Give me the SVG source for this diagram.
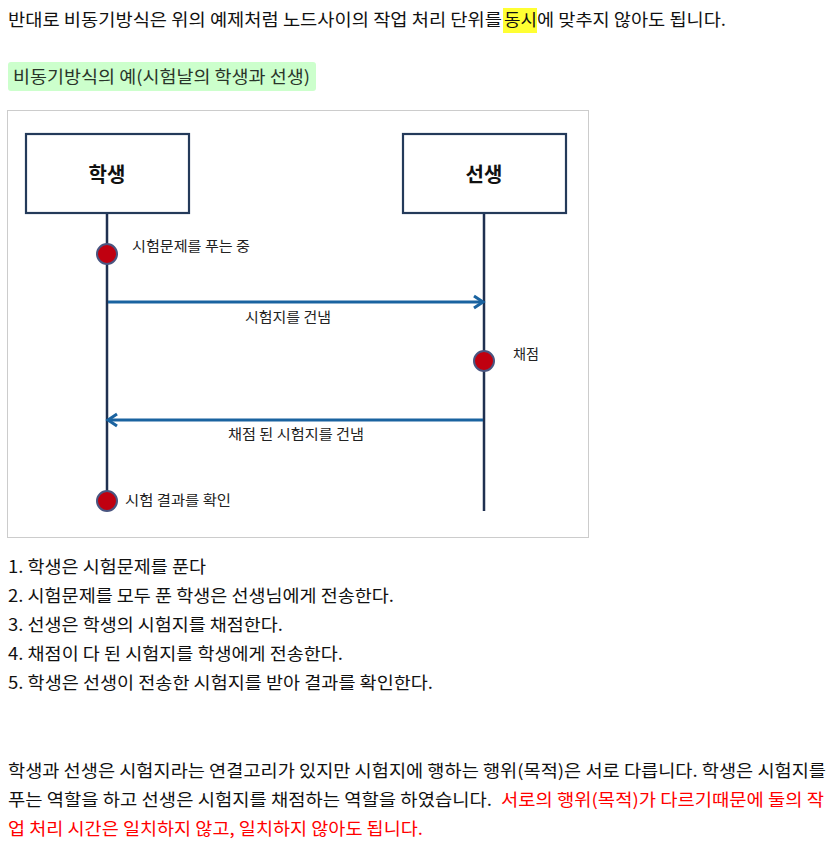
<svg xmlns="http://www.w3.org/2000/svg" width="834" height="856" viewBox="0 0 834 856">
<style>
.t{font-family:"Noto Sans CJK KR","Noto Sans",sans-serif;font-size:17px;fill:#111}
.r{fill:#ff0000}
.lbl{font-family:"Noto Sans CJK KR","Noto Sans",sans-serif;font-size:14px;fill:#222}
.box{fill:#fff;stroke:#243a5a;stroke-width:2.2}
.bt{font-family:"Noto Sans CJK KR","Noto Sans",sans-serif;font-size:20px;font-weight:bold;fill:#111;text-anchor:middle}
.life{stroke:#1f3050;stroke-width:2.5;fill:none}
.dot{fill:#c00010;stroke:#4a5580;stroke-width:2}
.msg{stroke:#1a63a0;stroke-width:3;fill:none}
</style>
<defs>
<marker id="ah" markerUnits="userSpaceOnUse" markerWidth="16" markerHeight="16" viewBox="0 0 16 16" refX="12" refY="8" orient="auto">
<path d="M3,2 L12,8 L3,14" fill="none" stroke="#1a63a0" stroke-width="3"/>
</marker>
</defs>
<rect width="834" height="856" fill="#fff"/>
<g id="intro">
<rect x="503" y="8" width="34" height="25" fill="#ffff33"/>
<text class="t" x="8" y="26" textLength="494" lengthAdjust="spacingAndGlyphs">반대로 비동기방식은 위의 예제처럼 노드사이의 작업 처리 단위를 </text>
<text class="t" x="504" y="26" textLength="33" lengthAdjust="spacingAndGlyphs">동시</text>
<text class="t" x="537" y="26" textLength="189" lengthAdjust="spacingAndGlyphs">에 맞추지 않아도 됩니다.</text>
</g>
<g id="caption">
<rect x="8" y="62" width="308" height="29" rx="3" fill="#ccffcc"/>
<text class="t" x="13" y="83" textLength="297" lengthAdjust="spacingAndGlyphs" style="fill:#2a352a">비동기방식의 예(시험날의 학생과 선생)</text>
</g>
<g id="frame">
<rect x="7.5" y="110.5" width="581" height="427" fill="#fff" stroke="#cccccc" stroke-width="1"/>
</g>
<g id="connectors">
<line class="life" x1="107" y1="213" x2="107" y2="501"/>
<line class="life" x1="484" y1="213" x2="484" y2="511"/>
<line class="msg" x1="108" y1="302" x2="483" y2="302" marker-end="url(#ah)"/>
<line class="msg" x1="483" y1="420" x2="108" y2="420" marker-end="url(#ah)"/>
<text class="lbl" x="245" y="322" textLength="86" lengthAdjust="spacingAndGlyphs">시험지를 건냄</text>
<text class="lbl" x="228" y="439" textLength="136" lengthAdjust="spacingAndGlyphs">채점 된 시험지를 건냄</text>
</g>
<g id="student">
<rect class="box" x="26" y="134" width="163" height="79"/>
<text class="bt" x="107" y="182">학생</text>
</g>
<g id="teacher">
<rect class="box" x="403" y="134" width="163" height="79"/>
<text class="bt" x="484" y="182">선생</text>
</g>
<g id="ev-solving">
<circle class="dot" cx="107" cy="254" r="10"/>
<text class="lbl" x="132" y="251" textLength="118" lengthAdjust="spacingAndGlyphs">시험문제를 푸는 중</text>
</g>
<g id="ev-grading">
<circle class="dot" cx="484" cy="361" r="10"/>
<text class="lbl" x="513" y="359" textLength="26" lengthAdjust="spacingAndGlyphs">채점</text>
</g>
<g id="ev-check">
<circle class="dot" cx="107" cy="501" r="10"/>
<text class="lbl" x="125" y="505" textLength="106" lengthAdjust="spacingAndGlyphs">시험 결과를 확인</text>
</g>
<g id="steps">
<text class="t" x="8" y="573" textLength="198" lengthAdjust="spacingAndGlyphs">1. 학생은 시험문제를 푼다</text>
<text class="t" x="8" y="602" textLength="386" lengthAdjust="spacingAndGlyphs">2. 시험문제를 모두 푼 학생은 선생님에게 전송한다.</text>
<text class="t" x="8" y="631" textLength="275" lengthAdjust="spacingAndGlyphs">3. 선생은 학생의 시험지를 채점한다.</text>
<text class="t" x="8" y="660" textLength="335" lengthAdjust="spacingAndGlyphs">4. 채점이 다 된 시험지를 학생에게 전송한다.</text>
<text class="t" x="8" y="689" textLength="425" lengthAdjust="spacingAndGlyphs">5. 학생은 선생이 전송한 시험지를 받아 결과를 확인한다.</text>
</g>
<g id="summary">
<text class="t" x="8" y="777" textLength="818" lengthAdjust="spacingAndGlyphs">학생과 선생은 시험지라는 연결고리가 있지만 시험지에 행하는 행위(목적)은 서로 다릅니다. 학생은 시험지를</text>
<text class="t" x="8" y="806" textLength="484" lengthAdjust="spacingAndGlyphs">푸는 역할을 하고 선생은 시험지를 채점하는 역할을 하였습니다.</text>
<text class="t r" x="501" y="806" textLength="323" lengthAdjust="spacingAndGlyphs">서로의 행위(목적)가 다르기때문에 둘의 작</text>
<text class="t r" x="8" y="835" textLength="415" lengthAdjust="spacingAndGlyphs">업 처리 시간은 일치하지 않고, 일치하지 않아도 됩니다.</text>
</g>
</svg>
